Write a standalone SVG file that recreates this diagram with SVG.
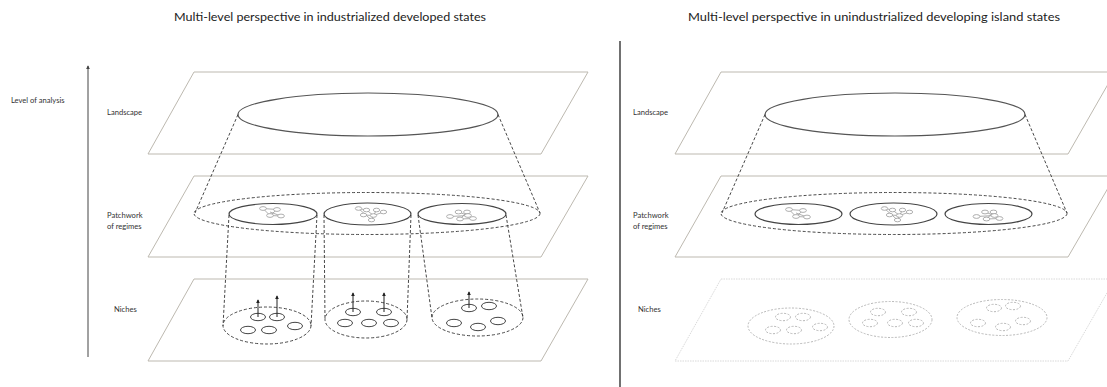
<svg xmlns="http://www.w3.org/2000/svg" width="1107" height="387" viewBox="0 0 1107 387">
  <style>
    .title { font-family: Lato, "Open Sans", "Liberation Sans", sans-serif; font-size: 11px; fill: #222; }
    .lbl { font-family: Lato, "Open Sans", "Liberation Sans", sans-serif; font-size: 7.6px; fill: #333; }
    .plane { fill: none; stroke: #bdb9b0; stroke-width: 1; }
    .plane-faint { fill: none; stroke: #cfcfcf; stroke-width: 0.8; stroke-dasharray: 1.5 1; }
    .land { fill: none; stroke: #555; stroke-width: 1.2; }
    .regime { fill: none; stroke: #444; stroke-width: 1.2; }
    .dash { fill: none; stroke: #333; stroke-width: 0.9; stroke-dasharray: 3 2; }
    .niche { fill: none; stroke: #444; stroke-width: 1; }
    .niche-faint { fill: none; stroke: #b0b0b0; stroke-width: 0.9; stroke-dasharray: 2 1.5; }
    .net line { stroke: #9a9a9a; stroke-width: 0.8; }
    .net ellipse { fill: #fff; stroke: #9a9a9a; stroke-width: 0.8; }
    .up { stroke: #222; stroke-width: 1; marker-end: url(#tip); }
  </style>
  <defs>
    <marker id="tip" viewBox="0 0 6 6" refX="5" refY="3" markerWidth="4" markerHeight="4" orient="auto">
      <path d="M0,0 L6,3 L0,6 Z" fill="#222"/>
    </marker>
    <marker id="axis" viewBox="0 0 6 6" refX="5" refY="3" markerWidth="4" markerHeight="4" orient="auto">
      <path d="M0,0 L6,3 L0,6 Z" fill="#444"/>
    </marker>
    <!-- small regime networks, drawn around the regime ellipse centre -->
    <g id="net1" class="net">
      <line x1="-10" y1="-5.5" x2="4" y2="-4.5"/>
      <line x1="-10" y1="-5.5" x2="-3" y2="1.5"/>
      <line x1="-3" y1="-2" x2="8" y2="2"/>
      <line x1="4" y1="-4.5" x2="-3" y2="1.5"/>
      <line x1="-3" y1="1.5" x2="8" y2="2"/>
      <ellipse cx="-10" cy="-5.5" rx="3.4" ry="1.9"/>
      <ellipse cx="4" cy="-4.5" rx="3.4" ry="1.9"/>
      <ellipse cx="-3" cy="1.5" rx="3.4" ry="1.9"/>
      <ellipse cx="8" cy="2" rx="3.4" ry="1.9"/>
    </g>
    <g id="net2" class="net">
      <line x1="-9" y1="-5.5" x2="-1" y2="-4"/>
      <line x1="-9" y1="-5.5" x2="4" y2="6"/>
      <line x1="-1" y1="-4" x2="6" y2="1.5"/>
      <line x1="-4" y1="1" x2="6" y2="1.5"/>
      <line x1="6" y1="1.5" x2="16" y2="-2"/>
      <line x1="9" y1="-4" x2="6" y2="1.5"/>
      <line x1="4" y1="6" x2="6" y2="1.5"/>
      <ellipse cx="-9" cy="-5.5" rx="3.2" ry="1.8"/>
      <ellipse cx="-1" cy="-4" rx="3.2" ry="1.8"/>
      <ellipse cx="9" cy="-4" rx="3.2" ry="1.8"/>
      <ellipse cx="16" cy="-2" rx="3.2" ry="1.8"/>
      <ellipse cx="-4" cy="1" rx="3.2" ry="1.8"/>
      <ellipse cx="6" cy="1.5" rx="3.2" ry="1.8"/>
      <ellipse cx="4" cy="6" rx="3.2" ry="1.8"/>
    </g>
    <g id="net3" class="net">
      <line x1="-12" y1="2.5" x2="6" y2="1.5"/>
      <line x1="-3.5" y1="-2" x2="6" y2="1.5"/>
      <line x1="5" y1="-2" x2="-2" y2="5"/>
      <line x1="6" y1="1.5" x2="11" y2="4.5"/>
      <line x1="-2" y1="5" x2="11" y2="4.5"/>
      <ellipse cx="-12" cy="2.5" rx="3.4" ry="1.9"/>
      <ellipse cx="-3.5" cy="-2" rx="3.4" ry="1.9"/>
      <ellipse cx="5" cy="-2" rx="3.4" ry="1.9"/>
      <ellipse cx="-2" cy="5" rx="3.4" ry="1.9"/>
      <ellipse cx="11" cy="4.5" rx="3.4" ry="1.9"/>
      <ellipse cx="6" cy="1.5" rx="3.4" ry="1.9"/>
    </g>
  </defs>

  <rect width="1107" height="387" fill="#fff"/>

  <!-- titles and shared axis -->
  <g id="titles">
    <text class="title" x="330" y="21" text-anchor="middle" textLength="312" lengthAdjust="spacingAndGlyphs">Multi-level perspective in industrialized developed states</text>
    <text class="title" x="874" y="21" text-anchor="middle" textLength="372" lengthAdjust="spacingAndGlyphs">Multi-level perspective in unindustrialized developing island states</text>
  </g>
  <g id="axis-level">
    <line x1="88" y1="357" x2="88" y2="66" stroke="#444" stroke-width="1" marker-end="url(#axis)"/>
    <text class="lbl" x="11" y="102.5">Level of analysis</text>
  </g>
  <line id="divider" x1="620" y1="41" x2="620" y2="387" stroke="#111" stroke-width="1.2"/>

  <!-- left panel: industrialized developed states -->
  <g id="left-landscape">
    <path class="plane" d="M194,72 H588 L541,154 H148 Z"/>
    <text class="lbl" x="107" y="114.5">Landscape</text>
    <ellipse class="land" cx="368" cy="114.5" rx="130" ry="21.5"/>
  </g>
  <g id="left-regimes">
    <path class="plane" d="M194,176 H588 L541,257 H148 Z"/>
    <text class="lbl" x="107" y="217.5">Patchwork</text>
    <text class="lbl" x="107" y="228.5">of regimes</text>
    <ellipse class="dash" cx="367" cy="213.5" rx="173" ry="21"/>
    <ellipse class="regime" cx="273" cy="214" rx="44" ry="10.5"/>
    <ellipse class="regime" cx="367.5" cy="214" rx="43.5" ry="11"/>
    <ellipse class="regime" cx="462" cy="214" rx="44" ry="10.5"/>
    <use href="#net1" x="273" y="214"/>
    <use href="#net2" x="367.5" y="214"/>
    <use href="#net3" x="462" y="214"/>
  </g>
  <g id="left-niches">
    <path class="plane" d="M194,279 H588 L541,361 H148 Z"/>
    <text class="lbl" x="114" y="311.5">Niches</text>
    <ellipse class="dash" cx="267" cy="325.5" rx="44" ry="18.5"/>
    <ellipse class="dash" cx="366" cy="319.5" rx="41" ry="18.5"/>
    <ellipse class="dash" cx="477.5" cy="317.5" rx="45.5" ry="18.5"/>
    <g class="niche">
      <ellipse cx="258" cy="317" rx="7.5" ry="3.7"/>
      <ellipse cx="277" cy="317" rx="7.5" ry="3.7"/>
      <ellipse cx="248" cy="330" rx="7.5" ry="3.7"/>
      <ellipse cx="269" cy="330" rx="7.5" ry="3.7"/>
      <ellipse cx="295" cy="326" rx="7.5" ry="3.7"/>
      <ellipse cx="353" cy="312" rx="7.5" ry="3.7"/>
      <ellipse cx="384" cy="312" rx="7.5" ry="3.7"/>
      <ellipse cx="345" cy="323" rx="7.5" ry="3.7"/>
      <ellipse cx="369" cy="323" rx="7.5" ry="3.7"/>
      <ellipse cx="391" cy="323" rx="7.5" ry="3.7"/>
      <ellipse cx="469" cy="308" rx="7.5" ry="3.7"/>
      <ellipse cx="489" cy="306" rx="7.5" ry="3.7"/>
      <ellipse cx="454" cy="323" rx="7.5" ry="3.7"/>
      <ellipse cx="478" cy="327" rx="7.5" ry="3.7"/>
      <ellipse cx="498" cy="321" rx="7.5" ry="3.7"/>
    </g>
    <line class="up" x1="258" y1="317" x2="258" y2="300"/>
    <line class="up" x1="277" y1="317" x2="277" y2="296"/>
    <line class="up" x1="353" y1="312" x2="353" y2="293"/>
    <line class="up" x1="384" y1="312" x2="384" y2="293"/>
    <line class="up" x1="469" y1="308" x2="469" y2="292"/>
  </g>
  <g id="left-connectors">
    <line class="dash" x1="238" y1="114.5" x2="195" y2="213"/>
    <line class="dash" x1="498" y1="114.5" x2="540" y2="213"/>
    <line class="dash" x1="229" y1="215" x2="223" y2="326"/>
    <line class="dash" x1="317" y1="215" x2="311" y2="326"/>
    <line class="dash" x1="324" y1="215" x2="325" y2="320"/>
    <line class="dash" x1="411" y1="215" x2="407" y2="320"/>
    <line class="dash" x1="418" y1="215" x2="432" y2="318"/>
    <line class="dash" x1="506" y1="215" x2="523" y2="318"/>
  </g>

  <!-- right panel: unindustrialized developing island states -->
  <g id="right-landscape">
    <path class="plane" d="M721,72 H1115 L1068,154 H675 Z"/>
    <text class="lbl" x="633" y="114.5">Landscape</text>
    <ellipse class="land" cx="895" cy="114.5" rx="130" ry="21.5"/>
  </g>
  <g id="right-regimes">
    <path class="plane" d="M721,176 H1115 L1068,257 H675 Z"/>
    <text class="lbl" x="633" y="217.5">Patchwork</text>
    <text class="lbl" x="633" y="228.5">of regimes</text>
    <ellipse class="dash" cx="894" cy="213.5" rx="173" ry="21"/>
    <ellipse class="regime" cx="798.5" cy="214" rx="43.5" ry="10.5"/>
    <ellipse class="regime" cx="893.5" cy="214" rx="43.5" ry="11"/>
    <ellipse class="regime" cx="988.5" cy="214" rx="43.5" ry="10.5"/>
    <use href="#net1" x="799" y="215"/>
    <use href="#net2" x="893.5" y="214"/>
    <use href="#net3" x="988.5" y="214"/>
  </g>
  <g id="right-niches">
    <path class="plane-faint" d="M721,279 H1115 L1068,361 H675 Z"/>
    <text class="lbl" x="638" y="311.5">Niches</text>
    <g class="niche-faint">
      <ellipse cx="791" cy="326" rx="43" ry="18"/>
      <ellipse cx="890.5" cy="319.5" rx="41.5" ry="18"/>
      <ellipse cx="1002" cy="317.5" rx="45" ry="18"/>
      <ellipse cx="783" cy="317" rx="7.5" ry="3.7"/>
      <ellipse cx="803" cy="317" rx="7.5" ry="3.7"/>
      <ellipse cx="773" cy="330" rx="7.5" ry="3.7"/>
      <ellipse cx="794" cy="330" rx="7.5" ry="3.7"/>
      <ellipse cx="820" cy="327" rx="7.5" ry="3.7"/>
      <ellipse cx="878" cy="312" rx="7.5" ry="3.7"/>
      <ellipse cx="909" cy="312" rx="7.5" ry="3.7"/>
      <ellipse cx="870" cy="323" rx="7.5" ry="3.7"/>
      <ellipse cx="895" cy="323" rx="7.5" ry="3.7"/>
      <ellipse cx="916" cy="323" rx="7.5" ry="3.7"/>
      <ellipse cx="994" cy="308" rx="7.5" ry="3.7"/>
      <ellipse cx="1013" cy="306" rx="7.5" ry="3.7"/>
      <ellipse cx="978" cy="323" rx="7.5" ry="3.7"/>
      <ellipse cx="1003" cy="327" rx="7.5" ry="3.7"/>
      <ellipse cx="1023" cy="321" rx="7.5" ry="3.7"/>
    </g>
  </g>
  <g id="right-connectors">
    <line class="dash" x1="765" y1="114.5" x2="722" y2="213"/>
    <line class="dash" x1="1025" y1="114.5" x2="1067" y2="213"/>
  </g>
</svg>
